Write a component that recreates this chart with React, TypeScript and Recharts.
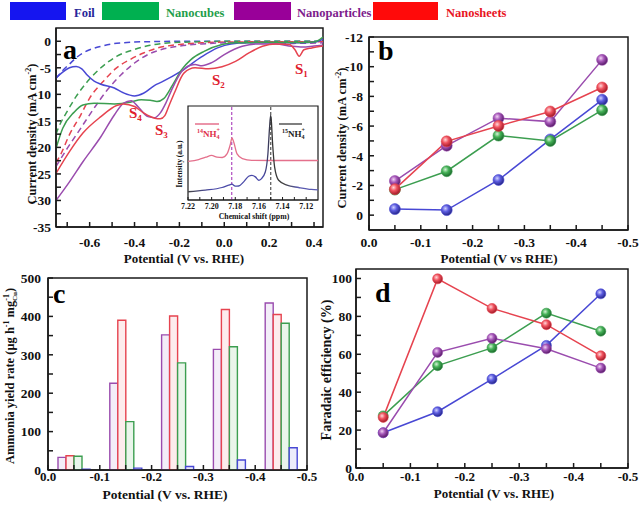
import React from 'react';
import { LineChart, Line, BarChart, Bar, XAxis, YAxis, ReferenceArea, ReferenceLine } from 'recharts';

const SERIF = '"Liberation Serif", "Times New Roman", "DejaVu Serif", serif';
const INK = '#1a1a1a';

const BLUE = '#4848d4';
const GREEN = '#3c9e50';
const PURPLE = '#9a4cae';
const RED = '#e6434f';

// shared legend
const materials = ['Foil', 'Nanocubes', 'Nanoparticles', 'Nanosheets'];

// (a) LSV curves: [potential V vs RHE, current density mA cm-2]
const foilWithNitrate = [
  [-0.75, -6.9], [-0.72, -5.8], [-0.69, -5.0], [-0.66, -4.75], [-0.635, -5.2], [-0.61, -6.4], [-0.58, -7.5],
  [-0.55, -8.1], [-0.49, -8.8], [-0.45, -9.7], [-0.4, -10.3], [-0.36, -9.8], [-0.31, -8.3], [-0.28, -7.7],
  [-0.19, -5.6], [-0.1, -2.9], [-0.03, -1.25], [0.03, -0.5], [0.1, -0.3], [0.2, -0.3], [0.3, -0.3], [0.4, -0.2], [0.44, 0.4],
];
const cubesWithNitrate = [
  [-0.75, -20.2], [-0.72, -16.4], [-0.67, -13.4], [-0.63, -12.0], [-0.58, -11.7], [-0.49, -11.8], [-0.42, -11.5],
  [-0.37, -11.0], [-0.33, -11.1], [-0.3, -11.35], [-0.27, -10.8], [-0.23, -8.2], [-0.19, -5.35], [-0.15, -3.5],
  [-0.09, -1.9], [-0.01, -0.6], [0.05, -0.3], [0.2, -0.2], [0.3, -0.25], [0.4, -0.15], [0.44, 0.8],
];
const particlesWithNitrate = [
  [-0.75, -30.0], [-0.69, -26.5], [-0.63, -22.7], [-0.55, -18.0], [-0.49, -13.9], [-0.45, -11.7], [-0.415, -11.2],
  [-0.385, -12.3], [-0.34, -14.2], [-0.31, -14.4], [-0.285, -13.5], [-0.26, -11.6], [-0.235, -9.2], [-0.19, -5.7],
  [-0.15, -4.5], [-0.13, -4.4], [-0.1, -4.6], [-0.06, -4.1], [0.0, -2.5], [0.08, -0.95], [0.15, -0.5], [0.23, -0.5],
  [0.3, -0.95], [0.35, -1.1], [0.4, -0.9], [0.44, -0.75],
];
const sheetsWithNitrate = [
  [-0.75, -24.9], [-0.69, -20.8], [-0.63, -17.3], [-0.55, -14.2], [-0.48, -12.1], [-0.45, -11.8], [-0.4, -12.3],
  [-0.36, -13.5], [-0.31, -14.5], [-0.285, -14.6], [-0.265, -14.0], [-0.245, -12.0], [-0.22, -9.5], [-0.18, -6.0],
  [-0.13, -5.0], [-0.07, -5.2], [-0.01, -4.8], [0.05, -3.8], [0.11, -2.2], [0.17, -0.95], [0.23, -0.5], [0.29, -0.6],
  [0.315, -1.6], [0.334, -2.8], [0.355, -1.6], [0.39, -1.25], [0.44, -0.9],
];
const foilBlank = [
  [-0.75, -7.0], [-0.72, -5.5], [-0.69, -4.3], [-0.66, -3.1], [-0.63, -2.2], [-0.6, -1.6], [-0.55, -0.95],
  [-0.5, -0.5], [-0.45, -0.28], [-0.4, -0.15], [-0.3, -0.05], [-0.2, 0], [0.0, 0], [0.2, 0], [0.44, 0],
];
const cubesBlank = [
  [-0.75, -17.5], [-0.74, -16.4], [-0.7, -13.2], [-0.66, -10.4], [-0.61, -7.6], [-0.55, -5.0], [-0.48, -2.85],
  [-0.4, -1.55], [-0.33, -0.75], [-0.28, -0.45], [-0.2, -0.2], [-0.1, -0.1], [0.0, 0], [0.44, 0],
];
const particlesBlank = [
  [-0.75, -23.6], [-0.7, -20.2], [-0.64, -16.4], [-0.58, -12.6], [-0.52, -9.1], [-0.46, -6.3], [-0.4, -4.1],
  [-0.34, -2.5], [-0.28, -1.55], [-0.2, -0.9], [-0.1, -0.5], [0.0, -0.3], [0.2, -0.25], [0.3, -0.4], [0.44, -0.3],
];
const sheetsBlank = [
  [-0.75, -22.9], [-0.73, -21.4], [-0.69, -17.6], [-0.64, -13.9], [-0.6, -10.7], [-0.54, -7.6], [-0.48, -5.0],
  [-0.42, -3.45], [-0.36, -2.2], [-0.3, -1.3], [-0.2, -0.6], [-0.1, -0.3], [0.0, -0.15], [0.2, -0.1], [0.44, -0.1],
];

// (a) inset, 1H NMR: [chemical shift ppm, intensity a.u.]
const nmr14 = [
  [7.22, 41], [7.211, 43], [7.205, 45.5], [7.2, 47.4], [7.1955, 45.6], [7.191, 45.2], [7.187, 49], [7.1842, 59],
  [7.1828, 66], [7.1814, 62], [7.1785, 49], [7.174, 44], [7.166, 42.2], [7.149, 42], [7.12, 42], [7.11, 42],
];
const nmr15 = [
  [7.22, 8.8], [7.2053, 10.5], [7.1912, 13.3], [7.1856, 15.8], [7.1828, 16.8], [7.18, 14.7], [7.1771, 14.9],
  [7.1729, 19.3], [7.1687, 25.3], [7.1659, 26.3], [7.163, 24.6], [7.1602, 21], [7.158, 22.5], [7.1546, 29.8],
  [7.1524, 49], [7.151, 77], [7.1501, 90], [7.1496, 86], [7.1484, 59.6], [7.1467, 35], [7.1433, 21],
  [7.1363, 15.8], [7.1264, 13.3], [7.1156, 11.2], [7.11, 10.8],
];
const nmr14Peak = 7.183;
const nmr15Peak = 7.15;

// (b)-(d) potentials, V vs RHE
const potentials = [-0.05, -0.15, -0.25, -0.35, -0.45];

// (b) current density, mA cm-2
const jFoil = [-0.41, -0.34, -2.37, -5.1, -7.77];
const jCubes = [-1.72, -2.96, -5.36, -5.0, -7.07];
const jParticles = [-2.3, -4.68, -6.53, -6.3, -10.46];
const jSheets = [-1.75, -4.97, -6.01, -6.98, -8.6];

// (c) ammonia yield rate, ug h-1 mgCu-1
const yieldParticles = [33, 226, 352, 314, 435];
const yieldSheets = [37, 390, 401, 418, 405];
const yieldCubes = [36, 126, 279, 321, 382];
const yieldFoil = [2, 5, 9, 26, 58];

// (d) faradaic efficiency, %
const feFoil = [18.6, 29.7, 46.9, 64.7, 91.9];
const feCubes = [27.5, 54, 63.4, 81.7, 72.2];
const feParticles = [18.6, 61, 68.4, 62.9, 52.7];
const feSheets = [26.7, 99.8, 84.2, 75.6, 59.2];

// ticks
const lsvXTicks = [-0.7, -0.6, -0.5, -0.4, -0.3, -0.2, -0.1, 0, 0.1, 0.2, 0.3, 0.4];
const lsvYTicks = [0, -2.5, -5, -7.5, -10, -12.5, -15, -17.5, -20, -22.5, -25, -27.5, -30, -32.5, -35];
const potTicks = [0, -0.05, -0.1, -0.15, -0.2, -0.25, -0.3, -0.35, -0.4, -0.45, -0.5];
const jTicks = [-12, -11, -10, -9, -8, -7, -6, -5, -4, -3, -2, -1, 0];
const yieldTicks = [0, 50, 100, 150, 200, 250, 300, 350, 400, 450, 500];
const feTicks = [0, 10, 20, 30, 40, 50, 60, 70, 80, 90, 100];
const nmrTicks = [7.22, 7.21, 7.2, 7.19, 7.18, 7.17, 7.16, 7.15, 7.14, 7.13, 7.12];

const pts = (arr: number[][]) => arr.map(([v, j]) => ({ v, j }));
const ppm = (arr: number[][]) => arr.map(([p, i]) => ({ p, i }));

const table = (a: number[], b: number[], c: number[], d: number[]) =>
  potentials.map((v, k) => ({ v, foil: a[k], cubes: b[k], particles: c[k], sheets: d[k] }));

const bData = table(jFoil, jCubes, jParticles, jSheets);
const cData = table(yieldFoil, yieldCubes, yieldParticles, yieldSheets);
const dData = table(feFoil, feCubes, feParticles, feSheets);

const axisLine = { stroke: INK, strokeWidth: 1.5 };
const tickFont = { fill: '#111', fontSize: 13.5, fontWeight: 700, fontFamily: SERIF };
const tickFontSm = { ...tickFont, fontSize: 13 };
const fmtTenth = (v: number) => (Math.round(v * 100) % 10 === 0 ? v.toFixed(1) : '');

const lsvSeries = [
  { name: 'foil-blank', data: foilBlank, color: BLUE, dashed: true },
  { name: 'cubes-blank', data: cubesBlank, color: GREEN, dashed: true },
  { name: 'sheets-blank', data: sheetsBlank, color: RED, dashed: true },
  { name: 'particles-blank', data: particlesBlank, color: PURPLE, dashed: true },
  { name: 'foil', data: foilWithNitrate, color: BLUE, dashed: false },
  { name: 'cubes', data: cubesWithNitrate, color: GREEN, dashed: false },
  { name: 'particles', data: particlesWithNitrate, color: PURPLE, dashed: false },
  { name: 'sheets', data: sheetsWithNitrate, color: RED, dashed: false },
];

const pointSeries = [
  { key: 'foil', color: BLUE, ball: 'ballBlue' },
  { key: 'cubes', color: GREEN, ball: 'ballGreen' },
  { key: 'particles', color: PURPLE, ball: 'ballPurple' },
  { key: 'sheets', color: RED, ball: 'ballRed' },
];

const barSeries = [
  { key: 'particles', color: PURPLE, fill: '#f3edf8' },
  { key: 'sheets', color: RED, fill: '#fdeced' },
  { key: 'cubes', color: GREEN, fill: '#eaf5eb' },
  { key: 'foil', color: BLUE, fill: '#ececfb' },
];

const PanelA = () => (
  <LineChart width={330} height={250} margin={{ top: 8, right: 7, bottom: 0, left: 0 }}>
    <XAxis type="number" dataKey="v" domain={[-0.75, 0.44]} allowDataOverflow ticks={lsvXTicks} interval={0}
      tickFormatter={(v: number) => (Math.round(v * 10) % 2 === 0 ? v.toFixed(1) : '')}
      height={43} tickSize={-5} tickMargin={15} tick={tickFont} axisLine={axisLine} tickLine={axisLine} />
    <YAxis type="number" dataKey="j" domain={[-35, 2.5]} allowDataOverflow ticks={lsvYTicks} interval={0}
      tickFormatter={(v: number) => (Math.round(v * 10) % 50 === 0 ? String(v) : '')}
      width={56} tickSize={-5} tickMargin={10} tick={tickFont} axisLine={axisLine} tickLine={axisLine} />
    <ReferenceArea x1={-0.75} x2={0.44} y1={-35} y2={2.5} fill="none" stroke={INK} strokeWidth={1.5} ifOverflow="visible" />
    {lsvSeries.map((s) => (
      <Line key={s.name} data={pts(s.data)} dataKey="j" type="monotone" stroke={s.color} strokeWidth={1.5}
        strokeDasharray={s.dashed ? '6 4' : undefined} dot={false} isAnimationActive={false} />
    ))}
  </LineChart>
);

const Inset = () => (
  <LineChart width={150} height={122} margin={{ top: 6, right: 4, bottom: 0, left: 16 }}>
    <XAxis type="number" dataKey="p" domain={[7.11, 7.22]} reversed allowDataOverflow ticks={nmrTicks} interval={0}
      tickFormatter={(v: number) => (Math.round(v * 100) % 2 === 0 ? v.toFixed(2) : '')}
      height={22} tickSize={-3} tickMargin={6} tick={{ ...tickFont, fontSize: 8 }}
      axisLine={{ stroke: INK, strokeWidth: 1.2 }} tickLine={{ stroke: INK, strokeWidth: 1 }} />
    <YAxis hide type="number" dataKey="i" domain={[0, 100]} allowDataOverflow />
    <ReferenceArea x1={7.11} x2={7.22} y1={0} y2={100} fill="#fff" fillOpacity={1} stroke={INK} strokeWidth={1.2} ifOverflow="visible" />
    <ReferenceLine x={nmr14Peak} stroke="#b04cc0" strokeDasharray="3 2" strokeWidth={1.2} />
    <ReferenceLine x={nmr15Peak} stroke="#555" strokeDasharray="3 2" strokeWidth={1.2} />
    <Line data={ppm(nmr14)} dataKey="i" type="monotone" stroke="#e4708c" strokeWidth={1.3} dot={false} isAnimationActive={false} />
    <Line data={ppm(nmr15)} dataKey="i" type="monotone" stroke="url(#nmrDark)" strokeWidth={1.3} dot={false} isAnimationActive={false} />
  </LineChart>
);

const PanelB = () => (
  <LineChart width={310} height={250} margin={{ top: 17, right: 12, bottom: 0, left: 0 }} data={bData}>
    <XAxis type="number" dataKey="v" domain={[-0.5, 0]} reversed allowDataOverflow ticks={potTicks} interval={0}
      tickFormatter={fmtTenth} height={40} tickSize={-5} tickMargin={12} tick={tickFont} axisLine={axisLine} tickLine={axisLine} />
    <YAxis type="number" domain={[-12, 1]} reversed allowDataOverflow ticks={jTicks} interval={0}
      tickFormatter={(v: number) => (v % 2 === 0 ? String(v) : '')}
      width={39} tickSize={-5} tickMargin={11} tick={tickFont} axisLine={axisLine} tickLine={axisLine} />
    <ReferenceArea x1={-0.5} x2={0} y1={-12} y2={1} fill="none" stroke={INK} strokeWidth={1.5} ifOverflow="visible" />
    {pointSeries.map((s) => (
      <Line key={s.key} dataKey={s.key} type="linear" stroke={s.color} strokeWidth={1.5}
        dot={{ r: 5.5, fill: `url(#${s.ball})`, stroke: s.color, strokeWidth: 0.6 }} isAnimationActive={false} />
    ))}
  </LineChart>
);

const PanelC = () => (
  <BarChart width={330} height={237} margin={{ top: 8, right: 23, bottom: 0, left: 0 }} data={cData} barGap={0}>
    <XAxis type="number" dataKey="v" domain={[-0.5, 0]} reversed allowDataOverflow ticks={potTicks} interval={0}
      tickFormatter={fmtTenth} height={37} tickSize={-5} tickMargin={7} tick={tickFontSm} axisLine={axisLine} tickLine={axisLine} />
    <YAxis type="number" domain={[0, 500]} allowDataOverflow ticks={yieldTicks} interval={0}
      tickFormatter={(v: number) => (v % 100 === 0 ? String(v) : '')}
      width={48} tickSize={-5} tickMargin={12} tick={tickFont} axisLine={axisLine} tickLine={axisLine} />
    <ReferenceArea x1={-0.5} x2={0} y1={0} y2={500} fill="none" stroke={INK} strokeWidth={1.5} ifOverflow="visible" />
    {barSeries.map((s) => (
      <Bar key={s.key} dataKey={s.key} barSize={8} fill={s.fill} stroke={s.color} strokeWidth={1.4} isAnimationActive={false} />
    ))}
  </BarChart>
);

const PanelD = () => (
  <LineChart width={310} height={245} margin={{ top: 7, right: 12, bottom: 0, left: 0 }} data={dData}>
    <XAxis type="number" dataKey="v" domain={[-0.5, 0]} reversed allowDataOverflow ticks={potTicks} interval={0}
      tickFormatter={fmtTenth} height={39} tickSize={-5} tickMargin={9} tick={tickFontSm} axisLine={axisLine} tickLine={axisLine} />
    <YAxis type="number" domain={[0, 105]} allowDataOverflow ticks={feTicks} interval={0}
      tickFormatter={(v: number) => (v % 20 === 0 ? String(v) : '')}
      width={26} tickSize={-5} tickMargin={9} tick={tickFont} axisLine={axisLine} tickLine={axisLine} />
    <ReferenceArea x1={-0.5} x2={0} y1={0} y2={105} fill="none" stroke={INK} strokeWidth={1.5} ifOverflow="visible" />
    {[pointSeries[1], pointSeries[0], pointSeries[2], pointSeries[3]].map((s) => (
      <Line key={s.key} dataKey={s.key} type="linear" stroke={s.color} strokeWidth={1.5}
        dot={{ r: 5, fill: `url(#${s.ball})`, stroke: s.color, strokeWidth: 0.6 }} isAnimationActive={false} />
    ))}
  </LineChart>
);

const Ball = ({ id, light, mid, dark }: { id: string; light: string; mid: string; dark: string }) => (
  <radialGradient id={id} cx="38%" cy="35%" r="65%">
    <stop offset="0%" stopColor={light} />
    <stop offset="45%" stopColor={mid} />
    <stop offset="100%" stopColor={dark} />
  </radialGradient>
);

const legendLayout = [
  { x: 10, w: 56, tx: 74, rect: '#1515f0', text: '#262699' },
  { x: 102, w: 57, tx: 166, rect: '#00b050', text: '#1f9e4b' },
  { x: 234, w: 57, tx: 297, rect: '#990099', text: '#7d1c8c' },
  { x: 373, w: 65, tx: 446, rect: '#ff0a0a', text: '#e8151f' },
];

const SLabel = ({ x, y, n }: { x: number; y: number; n: string }) => (
  <text x={x} y={y} fill="#e0202e" fontSize={15} fontWeight={700} fontFamily={SERIF}>
    S<tspan dy={3} fontSize={9}>{n}</tspan>
  </text>
);

const VTitle = ({ x, y, size = 12.5, children }: { x: number; y: number; size?: number; children: React.ReactNode }) => (
  <text x={x} y={y} transform={`rotate(-90 ${x} ${y})`} textAnchor="middle" fontSize={size} fontWeight={700} fontFamily={SERIF} fill="#111">
    {children}
  </text>
);

const HTitle = ({ x, y, size = 13, children }: { x: number; y: number; size?: number; children: React.ReactNode }) => (
  <text x={x} y={y} textAnchor="middle" fontSize={size} fontWeight={700} fontFamily={SERIF} fill="#111">
    {children}
  </text>
);

const Overlay = () => (
  <svg width={640} height={507} style={{ position: 'absolute', left: 0, top: 0, pointerEvents: 'none' }}>
    {materials.map((m, k) => (
      <g key={m}>
        <rect x={legendLayout[k].x} y={2} width={legendLayout[k].w} height={18} fill={legendLayout[k].rect} />
        <text x={legendLayout[k].tx} y={17} fill={legendLayout[k].text} fontSize={12.5} fontWeight={700} fontFamily={SERIF}>{m}</text>
      </g>
    ))}

    <text x={63} y={59} fontSize={28} fontWeight={700} fontFamily={SERIF} fill="#000">a</text>
    <text x={378} y={60} fontSize={28} fontWeight={700} fontFamily={SERIF} fill="#000">b</text>
    <text x={53} y={303} fontSize={28} fontWeight={700} fontFamily={SERIF} fill="#000">c</text>
    <text x={375} y={302} fontSize={28} fontWeight={700} fontFamily={SERIF} fill="#000">d</text>

    <SLabel x={295} y={74} n="1" />
    <SLabel x={212} y={85} n="2" />
    <SLabel x={155} y={135} n="3" />
    <SLabel x={129} y={118} n="4" />

    <HTitle x={184} y={263}>Potential (V vs. RHE)</HTitle>
    <HTitle x={499} y={263}>Potential (V vs RHE)</HTitle>
    <HTitle x={165} y={499} size={13.5}>Potential (V vs. RHE)</HTitle>
    <HTitle x={494} y={498}>Potential (V vs. RHE)</HTitle>

    <VTitle x={36} y={134}>
      Current density (mA cm<tspan dy={-5} fontSize={8}>-2</tspan><tspan dy={5}>)</tspan>
    </VTitle>
    <VTitle x={346} y={138}>
      Current density (mA cm<tspan dy={-5} fontSize={8}>-2</tspan><tspan dy={5}>)</tspan>
    </VTitle>
    <VTitle x={14} y={376}>
      Ammonia yield rate (μg h<tspan dy={-5} fontSize={8}>-1</tspan><tspan dy={5}> mg</tspan>
      <tspan dy={-5} fontSize={8}>-1</tspan><tspan dx={-7} dy={8} fontSize={7}>Cu</tspan><tspan dy={-3}>)</tspan>
    </VTitle>
    <VTitle x={331} y={370} size={14}>Faradaic efficiency (%)</VTitle>

    {/* inset labels */}
    <line x1={195} x2={219} y1={124} y2={124} stroke="#e4708c" strokeWidth={1.5} />
    <line x1={279} x2={302} y1={124} y2={124} stroke="#555" strokeWidth={1.5} />
    <text x={197} y={137} fill="#e0304a" fontSize={9} fontWeight={700} fontFamily={SERIF}>
      <tspan dy={-4} fontSize={6}>14</tspan><tspan dy={4}>NH</tspan><tspan dy={2} fontSize={6}>4</tspan>
      <tspan dx={-3} dy={-7} fontSize={6}>+</tspan>
    </text>
    <text x={282} y={137} fill="#222" fontSize={9} fontWeight={700} fontFamily={SERIF}>
      <tspan dy={-4} fontSize={6}>15</tspan><tspan dy={4}>NH</tspan><tspan dy={2} fontSize={6}>4</tspan>
      <tspan dx={-3} dy={-7} fontSize={6}>+</tspan>
    </text>
    <HTitle x={254} y={219} size={7.8}>Chemical shift (ppm)</HTitle>
    <VTitle x={182} y={164} size={7.5}>Intensity (a.u.)</VTitle>
  </svg>
);

export default function App() {
  return (
    <div style={{ position: 'absolute', left: 0, top: 0, width: 640, height: 507, background: '#fff', overflow: 'hidden' }}>
      <svg width={0} height={0} style={{ position: 'absolute' }}>
        <defs>
          <Ball id="ballBlue" light="#d0d0ff" mid="#5c5ce0" dark="#26268a" />
          <Ball id="ballGreen" light="#d4f2d6" mid="#45b257" dark="#1b6a2c" />
          <Ball id="ballPurple" light="#f2d2f4" mid="#a556b8" dark="#581a68" />
          <Ball id="ballRed" light="#ffd6d8" mid="#f0525e" dark="#a01a28" />
          <linearGradient id="nmrDark" x1="0" y1="0" x2="1" y2="0">
            <stop offset="0%" stopColor="#444" />
            <stop offset="18%" stopColor="#4a4aa8" />
            <stop offset="58%" stopColor="#4a4aa8" />
            <stop offset="64%" stopColor="#333" />
            <stop offset="74%" stopColor="#444" />
            <stop offset="85%" stopColor="#5a5ab0" />
            <stop offset="100%" stopColor="#5a5ab0" />
          </linearGradient>
        </defs>
      </svg>
      <div style={{ position: 'absolute', left: 0, top: 20 }}><PanelA /></div>
      <div style={{ position: 'absolute', left: 330, top: 20 }}><PanelB /></div>
      <div style={{ position: 'absolute', left: 0, top: 270 }}><PanelC /></div>
      <div style={{ position: 'absolute', left: 330, top: 262 }}><PanelD /></div>
      <div style={{ position: 'absolute', left: 172, top: 100 }}><Inset /></div>
      <Overlay />
    </div>
  );
}
